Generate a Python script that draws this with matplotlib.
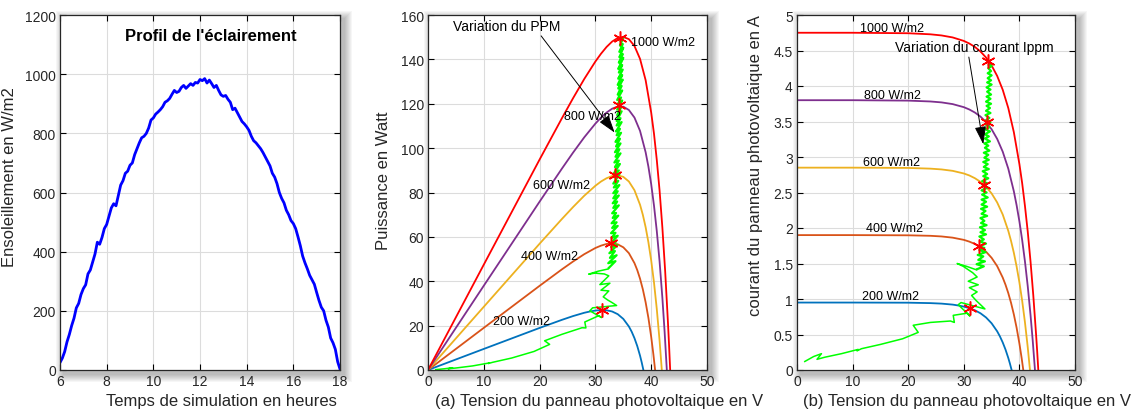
import numpy as np
import matplotlib
matplotlib.use('Agg')
import matplotlib.pyplot as plt
from matplotlib.patches import Rectangle
from matplotlib.ticker import FormatStrFormatter

plt.rcParams['font.family'] = ['Liberation Sans', 'DejaVu Sans']

# --- irradiance profile (W/m2), one value every 0.1 h from 6h to 18h
irradiance = [
    25, 40, 62, 95, 120, 150, 175, 210, 225, 255,
    275, 288, 325, 338, 365, 392, 432, 425, 448, 478,
    492, 520, 548, 562, 555, 590, 625, 640, 665, 672,
    692, 700, 728, 748, 768, 785, 790, 800, 818, 845,
    852, 865, 872, 880, 890, 905, 910, 918, 932, 945,
    938, 942, 955, 962, 952, 960, 968, 962, 972, 970,
    982, 978, 985, 970, 980, 968, 955, 962, 945, 930,
    925, 928, 915, 905, 880, 885, 870, 855, 840, 832,
    822, 810, 790, 775, 768, 758, 748, 735, 720, 705,
    690, 665, 652, 630, 600, 580, 565, 540, 525, 505,
    495, 478, 450, 420, 385, 362, 342, 320, 305, 290,
    262, 235, 212, 200, 168, 145, 108, 92, 70, 28,
    3,
]
hours = np.linspace(6, 18, len(irradiance))

# --- I-V curves of the panel for each irradiance level
v_200 = [0, 10, 20, 24, 26, 28, 29, 30, 31, 32, 33, 34, 35, 36, 36.5, 37, 37.5, 38, 38.3, 38.6]
i_200 = [0.95, 0.95, 0.948, 0.942, 0.935, 0.921, 0.909, 0.893, 0.871, 0.841,
         0.799, 0.740, 0.658, 0.545, 0.473, 0.388, 0.288, 0.170, 0.089, 0]
v_400 = [0, 10, 20, 24, 26, 28, 30, 31, 32, 33, 34, 35, 36, 37, 37.5, 38, 38.5, 39, 39.5, 40, 40.4, 40.7]
i_400 = [1.9, 1.9, 1.897, 1.890, 1.881, 1.864, 1.833, 1.808, 1.775, 1.729,
         1.666, 1.580, 1.463, 1.302, 1.201, 1.083, 0.945, 0.783, 0.594, 0.373, 0.17, 0]
v_600 = [0, 10, 20, 24, 26, 28, 30, 31, 32, 33, 34, 35, 36, 37, 38, 38.5, 39, 39.5, 40, 40.5, 41, 41.5, 41.9]
i_600 = [2.85, 2.85, 2.846, 2.836, 2.825, 2.805, 2.768, 2.740, 2.701, 2.650,
         2.580, 2.487, 2.360, 2.190, 1.960, 1.817, 1.651, 1.457, 1.234, 0.974, 0.671, 0.32, 0]
v_800 = [0, 10, 20, 24, 26, 28, 30, 31, 32, 33, 34, 35, 36, 37, 38, 39, 39.5, 40, 40.5, 41, 41.5, 42, 42.4, 42.8]
i_800 = [3.8, 3.8, 3.794, 3.782, 3.769, 3.745, 3.702, 3.669, 3.626, 3.569,
         3.492, 3.391, 3.255, 3.075, 2.836, 2.517, 2.32, 2.093, 1.83, 1.528, 1.18, 0.776, 0.41, 0]
v_1000 = [0, 10, 20, 24, 26, 28, 30, 31, 32, 33, 34, 35, 36, 37, 38, 39, 40, 40.5, 41, 41.5, 42, 42.5, 43, 43.2, 43.4]
i_1000 = [4.75, 4.75, 4.743, 4.728, 4.712, 4.684, 4.635, 4.598, 4.55, 4.486,
          4.401, 4.289, 4.142, 3.947, 3.69, 3.35, 2.90, 2.63, 2.31, 1.95, 1.53, 1.05, 0.50, 0.26, 0]

labels = ['200 W/m2', '400 W/m2', '600 W/m2', '800 W/m2', '1000 W/m2']
colors = ['#0072BD', '#D95319', '#EDB120', '#7E2F8E', '#FF0000']

# maximum power points
mpp_v = [31.2, 32.8, 33.6, 34.2, 34.4]
mpp_i = [0.87, 1.74, 2.61, 3.49, 4.35]

# operating point followed by the MPPT over the day (V, I)
# start-up part (low irradiance)
start_v = [1.4, 3.0, 4.4, 3.6, 5.0, 8.0, 11.0, 10.8, 11.6, 15.0, 19.0, 21.8, 20.9, 24.0,
           27.6, 28.3, 28.1, 30.6, 31.1, 29.0, 29.5, 33.8, 33.0, 32.2, 31.4, 32.4, 31.0,
           32.6, 30.8, 32.4, 31.6, 29.9, 28.8, 30.5, 32.3, 32.4]
start_i = [0.12, 0.19, 0.23, 0.15, 0.18, 0.23, 0.29, 0.27, 0.30, 0.36, 0.44, 0.53, 0.63, 0.67,
           0.69, 0.67, 0.77, 0.80, 0.76, 0.92, 0.95, 0.86, 0.92, 0.98, 1.05, 1.10, 1.16,
           1.20, 1.25, 1.31, 1.37, 1.46, 1.50, 1.46, 1.41, 1.42]
# oscillation band around the MPP
band_v = [32.4, 33.6, 32.3, 33.8, 32.6, 33.5, 32.5, 33.9, 32.8, 33.7, 32.7, 34.0, 32.9,
          33.6, 32.8, 34.0, 33.0, 33.8, 32.9, 34.1, 33.1, 33.7, 33.0, 34.2, 33.2, 33.9,
          33.1, 34.2, 33.2, 34.0, 33.2, 34.3, 33.3, 34.1, 33.2, 34.3, 33.4, 34.2, 33.3,
          34.4, 33.5, 34.2, 33.4, 34.5, 33.6, 34.3, 33.5, 34.5, 33.7, 34.4, 33.6, 34.6,
          33.8, 34.4, 33.7, 34.7, 33.8, 34.5, 33.8, 34.7, 33.9, 34.6, 33.9, 34.8, 34.0,
          34.6, 33.9, 34.8, 34.0, 34.7, 34.1, 34.9, 34.0, 34.8, 34.1, 34.9, 34.2, 34.8,
          34.1, 35.0, 34.2, 34.9, 34.3, 35.0, 34.3, 34.9, 34.4, 35.0, 34.5]
band_i = [1.42, 1.46, 1.49, 1.53, 1.55, 1.60, 1.62, 1.66, 1.69, 1.72, 1.74, 1.78, 1.81,
          1.84, 1.88, 1.91, 1.94, 1.97, 2.01, 2.04, 2.07, 2.10, 2.14, 2.17, 2.20, 2.24,
          2.27, 2.30, 2.33, 2.37, 2.40, 2.43, 2.47, 2.50, 2.53, 2.57, 2.60, 2.63, 2.66,
          2.70, 2.73, 2.76, 2.80, 2.83, 2.86, 2.90, 2.93, 2.96, 2.99, 3.03, 3.06, 3.09,
          3.13, 3.16, 3.19, 3.22, 3.26, 3.29, 3.32, 3.36, 3.39, 3.42, 3.46, 3.49, 3.52,
          3.55, 3.59, 3.62, 3.65, 3.69, 3.72, 3.75, 3.78, 3.82, 3.85, 3.88, 3.92, 3.95,
          3.98, 4.02, 4.05, 4.08, 4.11, 4.15, 4.18, 4.21, 4.25, 4.28, 4.30]

curves_v = [v_200, v_400, v_600, v_800, v_1000]
curves_i = [i_200, i_400, i_600, i_800, i_1000]

W, H = 1136, 410
fig = plt.figure(figsize=(W / 100, H / 100), dpi=100)
star = (6, 2, 0)  # asterisk marker like MATLAB '*'
arrow = '-|>,head_length=1.1,head_width=0.35'


def make_axes(left, right, top=16, bottom=371):
    # soft drop shadow behind the box
    for k in range(8, 0, -1):
        fig.patches.append(Rectangle(((left + 4 - k) / W, (H - bottom - 4 - k) / H),
                                     (right - left + 2 * k) / W, (bottom - top + 2 * k) / H,
                                     transform=fig.transFigure, color='k', alpha=0.035,
                                     lw=0, zorder=-1))
    ax = fig.add_axes([left / W, (H - bottom) / H, (right - left) / W, (bottom - top) / H])
    ax.grid(True, color='#dcdcdc', lw=0.8)
    ax.set_axisbelow(True)
    ax.tick_params(direction='in', top=True, right=True, length=4, labelsize=10,
                   labelcolor='#262626', pad=3)
    for s in ax.spines.values():
        s.set_color('#262626')
        s.set_linewidth(0.9)
    return ax


# ---------- panel 1: irradiance profile
ax1 = make_axes(60, 340)
ax1.plot(hours, irradiance, color='#0000FF', lw=2)
ax1.set_xlim(6, 18)
ax1.set_ylim(0, 1200)
ax1.set_xticks([6, 8, 10, 12, 14, 16, 18])
ax1.set_yticks(range(0, 1201, 200))
ax1.text(12.47, 1132, "Profil de l'éclairement", fontsize=12, fontweight='bold',
         ha='center', va='center')
ax1.set_ylabel('Ensoleillement en W/m2', fontsize=12, color='#262626')
ax1.yaxis.set_label_coords(-0.154, 0.546)
ax1.set_xlabel('Temps de simulation en heures', fontsize=12, color='#262626', ha='left')
ax1.xaxis.set_label_coords(0.164, -0.085)
ax1.xaxis.label.set_va('center')

# ---------- panel 2: P-V curves
ax2 = make_axes(428, 707)
for v, i, c in zip(curves_v, curves_i, colors):
    ax2.plot(v, np.array(v) * np.array(i), color=c, lw=1.3)
ax2.plot(start_v, np.array(start_v) * np.array(start_i), color='#00FF00', lw=1.1)
ax2.plot(band_v, np.array(band_v) * np.array(band_i), color='#00FF00', lw=1.6)
ax2.plot(mpp_v, np.array(mpp_v) * np.array(mpp_i), marker=star, color='#FF0000', ms=10,
         markeredgewidth=1.1, ls='none')
p_lab_pos = [(11.6, 22.2), (16.7, 51.2), (18.9, 83.4), (24.4, 114.6), (36.4, 147.7)]
for (x, y), t in zip(p_lab_pos, labels):
    ax2.text(x, y, t, fontsize=9, ha='left', va='center')
ax2.annotate('Variation du PPM', xy=(33.45, 107), xytext=(4.5, 155),
             fontsize=10, ha='left', va='center',
             arrowprops=dict(arrowstyle=arrow, color='k',
                             lw=0.7, shrinkA=0, shrinkB=0, relpos=(0.8, 0.0)))
ax2.set_xlim(0, 50)
ax2.set_ylim(0, 160)
ax2.set_yticks(range(0, 161, 20))
ax2.set_ylabel('Puissance en Watt', fontsize=12, color='#262626')
ax2.yaxis.set_label_coords(-0.134, 0.535)
ax2.set_xlabel('(a) Tension du panneau photovoltaique en V', fontsize=12, color='#262626', ha='left')
ax2.xaxis.set_label_coords(0.025, -0.085)
ax2.xaxis.label.set_va('center')

# ---------- panel 3: I-V curves
ax3 = make_axes(797, 1075)
for v, i, c in zip(curves_v, curves_i, colors):
    ax3.plot(v, i, color=c, lw=1.3)
ax3.plot(start_v, start_i, color='#00FF00', lw=1.1)
ax3.plot(band_v, band_i, color='#00FF00', lw=1.6)
ax3.plot(mpp_v, mpp_i, marker=star, color='#FF0000', ms=10, markeredgewidth=1.1, ls='none')
i_lab_pos = [(11.7, 1.04), (12.5, 2.0), (11.9, 2.93), (12.1, 3.87), (11.3, 4.81)]
for (x, y), t in zip(i_lab_pos, labels):
    ax3.text(x, y, t, fontsize=9, ha='left', va='center')
ax3.annotate('Variation du courant Ippm', xy=(33.5, 3.18), xytext=(17.7, 4.545),
             fontsize=10, ha='left', va='center',
             arrowprops=dict(arrowstyle=arrow, color='k',
                             lw=0.7, shrinkA=0, shrinkB=0, relpos=(0.46, 0.0)))
ax3.set_xlim(0, 50)
ax3.set_ylim(0, 5)
ax3.set_yticks(np.arange(0, 5.01, 0.5))
ax3.yaxis.set_major_formatter(FormatStrFormatter('%g'))
ax3.set_ylabel('courant du panneau photovoltaique en A', fontsize=12, color='#262626')
ax3.yaxis.set_label_coords(-0.123, 0.58)
ax3.set_xlabel('(b) Tension du panneau photovoltaique en V', fontsize=12, color='#262626', ha='left')
ax3.xaxis.set_label_coords(0.022, -0.085)
ax3.xaxis.label.set_va('center')

fig.savefig('out.png', dpi=100)
